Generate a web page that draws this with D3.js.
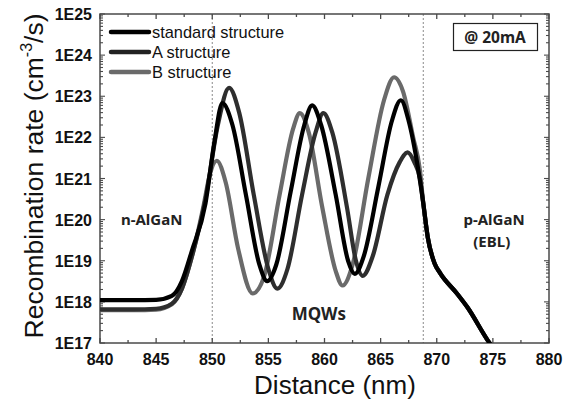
<!DOCTYPE html>
<html><head><meta charset="utf-8">
<script src="https://cdn.jsdelivr.net/npm/d3@7"></script>
<style>body{margin:0;background:#fff}svg{display:block}</style>
</head><body>
<svg id="c" width="573" height="405"></svg>
<script>
// ---- data ----
const xTicks = [840, 845, 850, 855, 860, 865, 870, 875, 880];
const yTickLabels = ["1E17","1E18","1E19","1E20","1E21","1E22","1E23","1E24","1E25"];
const seriesNames = ["standard structure", "A structure", "B structure"];
const stdX = [840,843,845,846.4,847.3,848.2,849.4,850.2,850.9,851.8,853,854.2,854.9,855.7,857,858.2,858.9,859.7,861,862.1,862.7,863.5,864.8,866,866.8,867.5,868.3,868.8,869.2,869.8,870.3,871.8,872.7,874.7,875.3];
const stdY = [1.1e18,1.1e18,1.12e18,1.4e18,3.2e18,1.8e19,2.5e20,8e21,6.8e22,2e22,4e20,8e18,3.2e18,8e18,5e20,2e22,6e22,2e22,4e20,1e19,4.8e18,1.3e19,6.3e20,2.5e22,8e22,2.5e22,2e21,2.5e20,3.7e19,8.7e18,5e18,1.6e18,7.6e17,1e17,6e16];
const aX = [840,843,845,846.4,847.3,848.2,849.4,850.5,851.5,852.4,853.7,855,855.8,856.7,858,859.2,859.9,860.7,862,862.8,863.4,864.3,865.6,866.7,867.4,868,868.5,868.8,869.2,869.8,870.3,871.8,872.7,874.7,875.3];
const aY = [6.6e17,6.6e17,6.8e17,9e17,2.1e18,1.3e19,3.2e20,2e22,1.6e23,4e22,4e20,6.3e18,2.1e18,6.3e18,4e20,1.3e22,3.9e22,1.3e22,2e20,1e19,4.3e18,1.3e19,4e20,2.5e21,4.3e21,2.5e21,1e21,2.5e20,3.7e19,8.7e18,5e18,1.6e18,7.6e17,1e17,6e16];
const bX = [840,843,845,846.4,847.3,848.2,849.2,849.8,850.4,851.2,852.3,853.6,854.6,856,857.2,857.8,858.6,859.8,861,861.6,862.5,863.9,865.3,866.2,867,867.9,868.5,868.8,869.2,869.8,870.3,871.8,872.7,874.7,875.3];
const bY = [6.3e17,6.3e17,6.5e17,8.8e17,2.1e18,1.3e19,2e20,1.3e21,2.7e21,8e20,2e19,1.6e18,4e18,4e20,1.6e22,3.9e22,1.3e22,2e20,5.6e18,2.5e18,8e18,1e21,8e22,2.9e23,1.3e23,1e22,1.6e21,2.5e20,3.7e19,8.7e18,5e18,1.6e18,7.6e17,1e17,6e16];
const dashedAt = [850, 868.8];
const regionLabels = [
  {t:"n-AlGaN", x:844.6, y:7.4e19, s:15},
  {t:"p-AlGaN", x:875.1, y:7.4e19, s:15},
  {t:"(EBL)", x:874.9, y:2.2e19, s:15},
  {t:"MQWs", x:859.5, y:3.6e17, s:17}
];

// ---- layout ----
const svg = d3.select("#c");
const L = 100, R = 549, T = 14, B = 343;
const x = d3.scaleLinear().domain([840, 880]).range([L, R]);
const y = d3.scaleLog().domain([1e17, 1e25]).range([B, T]);
const font = "'Liberation Sans', Arial, sans-serif";
const axisCol = "#4a4a4a";

svg.append("defs").append("clipPath").attr("id","clip")
  .append("rect").attr("x",L).attr("y",T).attr("width",R-L).attr("height",B-T);

// dashed lines
svg.selectAll("line.dash").data(dashedAt).join("line")
  .attr("x1", d=>x(d)).attr("x2", d=>x(d)).attr("y1", T).attr("y2", B)
  .attr("stroke", "#8a8a8a").attr("stroke-width", 1).attr("stroke-dasharray", "2,2");

// ticks
const xMinor = d3.range(842.5, 880, 5);
const g = svg.append("g");
function hTicks(vals, len){
  vals.forEach(v=>{
    g.append("line").attr("x1",x(v)).attr("x2",x(v)).attr("y1",B).attr("y2",B-len).attr("stroke",axisCol).attr("stroke-width",1.3);
    g.append("line").attr("x1",x(v)).attr("x2",x(v)).attr("y1",T).attr("y2",T+len).attr("stroke",axisCol).attr("stroke-width",1.3);
  });
}
hTicks(xTicks, 5); hTicks(xMinor, 3);
const yMajor = y.ticks().filter(v => Math.abs(Math.log10(v) - Math.round(Math.log10(v))) < 1e-9);
const yMinor = y.ticks().filter(v => Math.abs(Math.log10(v) - Math.round(Math.log10(v))) >= 1e-9);
function vTicks(vals, len){
  vals.forEach(v=>{
    g.append("line").attr("x1",L).attr("x2",L+len).attr("y1",y(v)).attr("y2",y(v)).attr("stroke",axisCol).attr("stroke-width",1.1);
    g.append("line").attr("x1",R).attr("x2",R-len).attr("y1",y(v)).attr("y2",y(v)).attr("stroke",axisCol).attr("stroke-width",1.1);
  });
}
vTicks(yMajor, 5); vTicks(yMinor, 3);

// frame
svg.append("rect").attr("x",L).attr("y",T).attr("width",R-L).attr("height",B-T)
  .attr("fill","none").attr("stroke",axisCol).attr("stroke-width",1.5);

// tick labels
svg.selectAll("text.xl").data(xTicks).join("text")
  .attr("x", d=>x(d)).attr("y", 365).attr("text-anchor","middle")
  .attr("font-family", font).attr("font-weight","bold").attr("font-size",16).attr("fill","#111")
  .text(d=>d);
svg.selectAll("text.yl").data(yMajor).join("text")
  .attr("x", 92).attr("y", d=>y(d)+6).attr("text-anchor","end")
  .attr("font-family", font).attr("font-weight","bold").attr("font-size",16).attr("fill","#111")
  .text((d,i)=>yTickLabels[i]);

// axis titles
svg.append("text").attr("x", 335).attr("y", 394).attr("text-anchor","middle")
  .attr("font-family", font).attr("font-size", 26).attr("fill","#111").text("Distance (nm)");
const yt = svg.append("text").attr("transform","translate(43,176) rotate(-90)").attr("text-anchor","middle")
  .attr("font-family", font).attr("font-size", 26.5).attr("fill","#111");
yt.append("tspan").text("Recombination rate (cm");
yt.append("tspan").attr("font-size",16).attr("dy",-11).text("-3");
yt.append("tspan").attr("dy",11).text("/s)");

// curves
const line = d3.line().x(d=>x(d[0])).y(d=>y(d[1])).curve(d3.curveMonotoneX);
const series = [
  {name: seriesNames[2], xs: bX, ys: bY, color:"#6a6a6a", w:4.2},
  {name: seriesNames[1], xs: aX, ys: aY, color:"#2e2e2e", w:4.2},
  {name: seriesNames[0], xs: stdX, ys: stdY, color:"#000000", w:4.2}
];
const cg = svg.append("g").attr("clip-path","url(#clip)");
series.forEach(s=>{
  cg.append("path").datum(s.xs.map((v,i)=>[v, s.ys[i]]))
    .attr("d", line).attr("fill","none").attr("stroke", s.color).attr("stroke-width", s.w)
    .attr("stroke-linejoin","round").attr("stroke-linecap","round");
});

// legend
const legend = [
  {name: seriesNames[0], color:"#000000"},
  {name: seriesNames[1], color:"#222222"},
  {name: seriesNames[2], color:"#6a6a6a"}
];
legend.forEach((d,i)=>{
  const yy = 32 + i*20;
  svg.append("line").attr("x1",111).attr("x2",149).attr("y1",yy).attr("y2",yy)
    .attr("stroke", d.color).attr("stroke-width", 4.5).attr("stroke-linecap","round");
  svg.append("text").attr("x",152).attr("y",yy+6).attr("font-family",font).attr("font-size",16.4).attr("fill","#111").text(d.name);
});

// @ 20mA box
svg.append("rect").attr("x",453.5).attr("y",23.5).attr("width",84).attr("height",27)
  .attr("fill","#fff").attr("stroke","#222").attr("stroke-width",1.2);
svg.append("text").attr("x",495).attr("y",42.5).attr("text-anchor","middle")
  .attr("font-family","'Noto Sans', sans-serif").attr("font-weight","bold").attr("font-size",15.5).attr("fill","#222").text("@ 20mA");

// region labels
svg.selectAll("text.rl").data(regionLabels).join("text")
  .attr("x", d=>x(d.x)).attr("y", d=>y(d.y)).attr("text-anchor","middle")
  .attr("font-family","'Noto Sans', sans-serif").attr("font-weight","bold").attr("font-size", d=>d.s).attr("fill","#222")
  .text(d=>d.t);
</script>
</body></html>
